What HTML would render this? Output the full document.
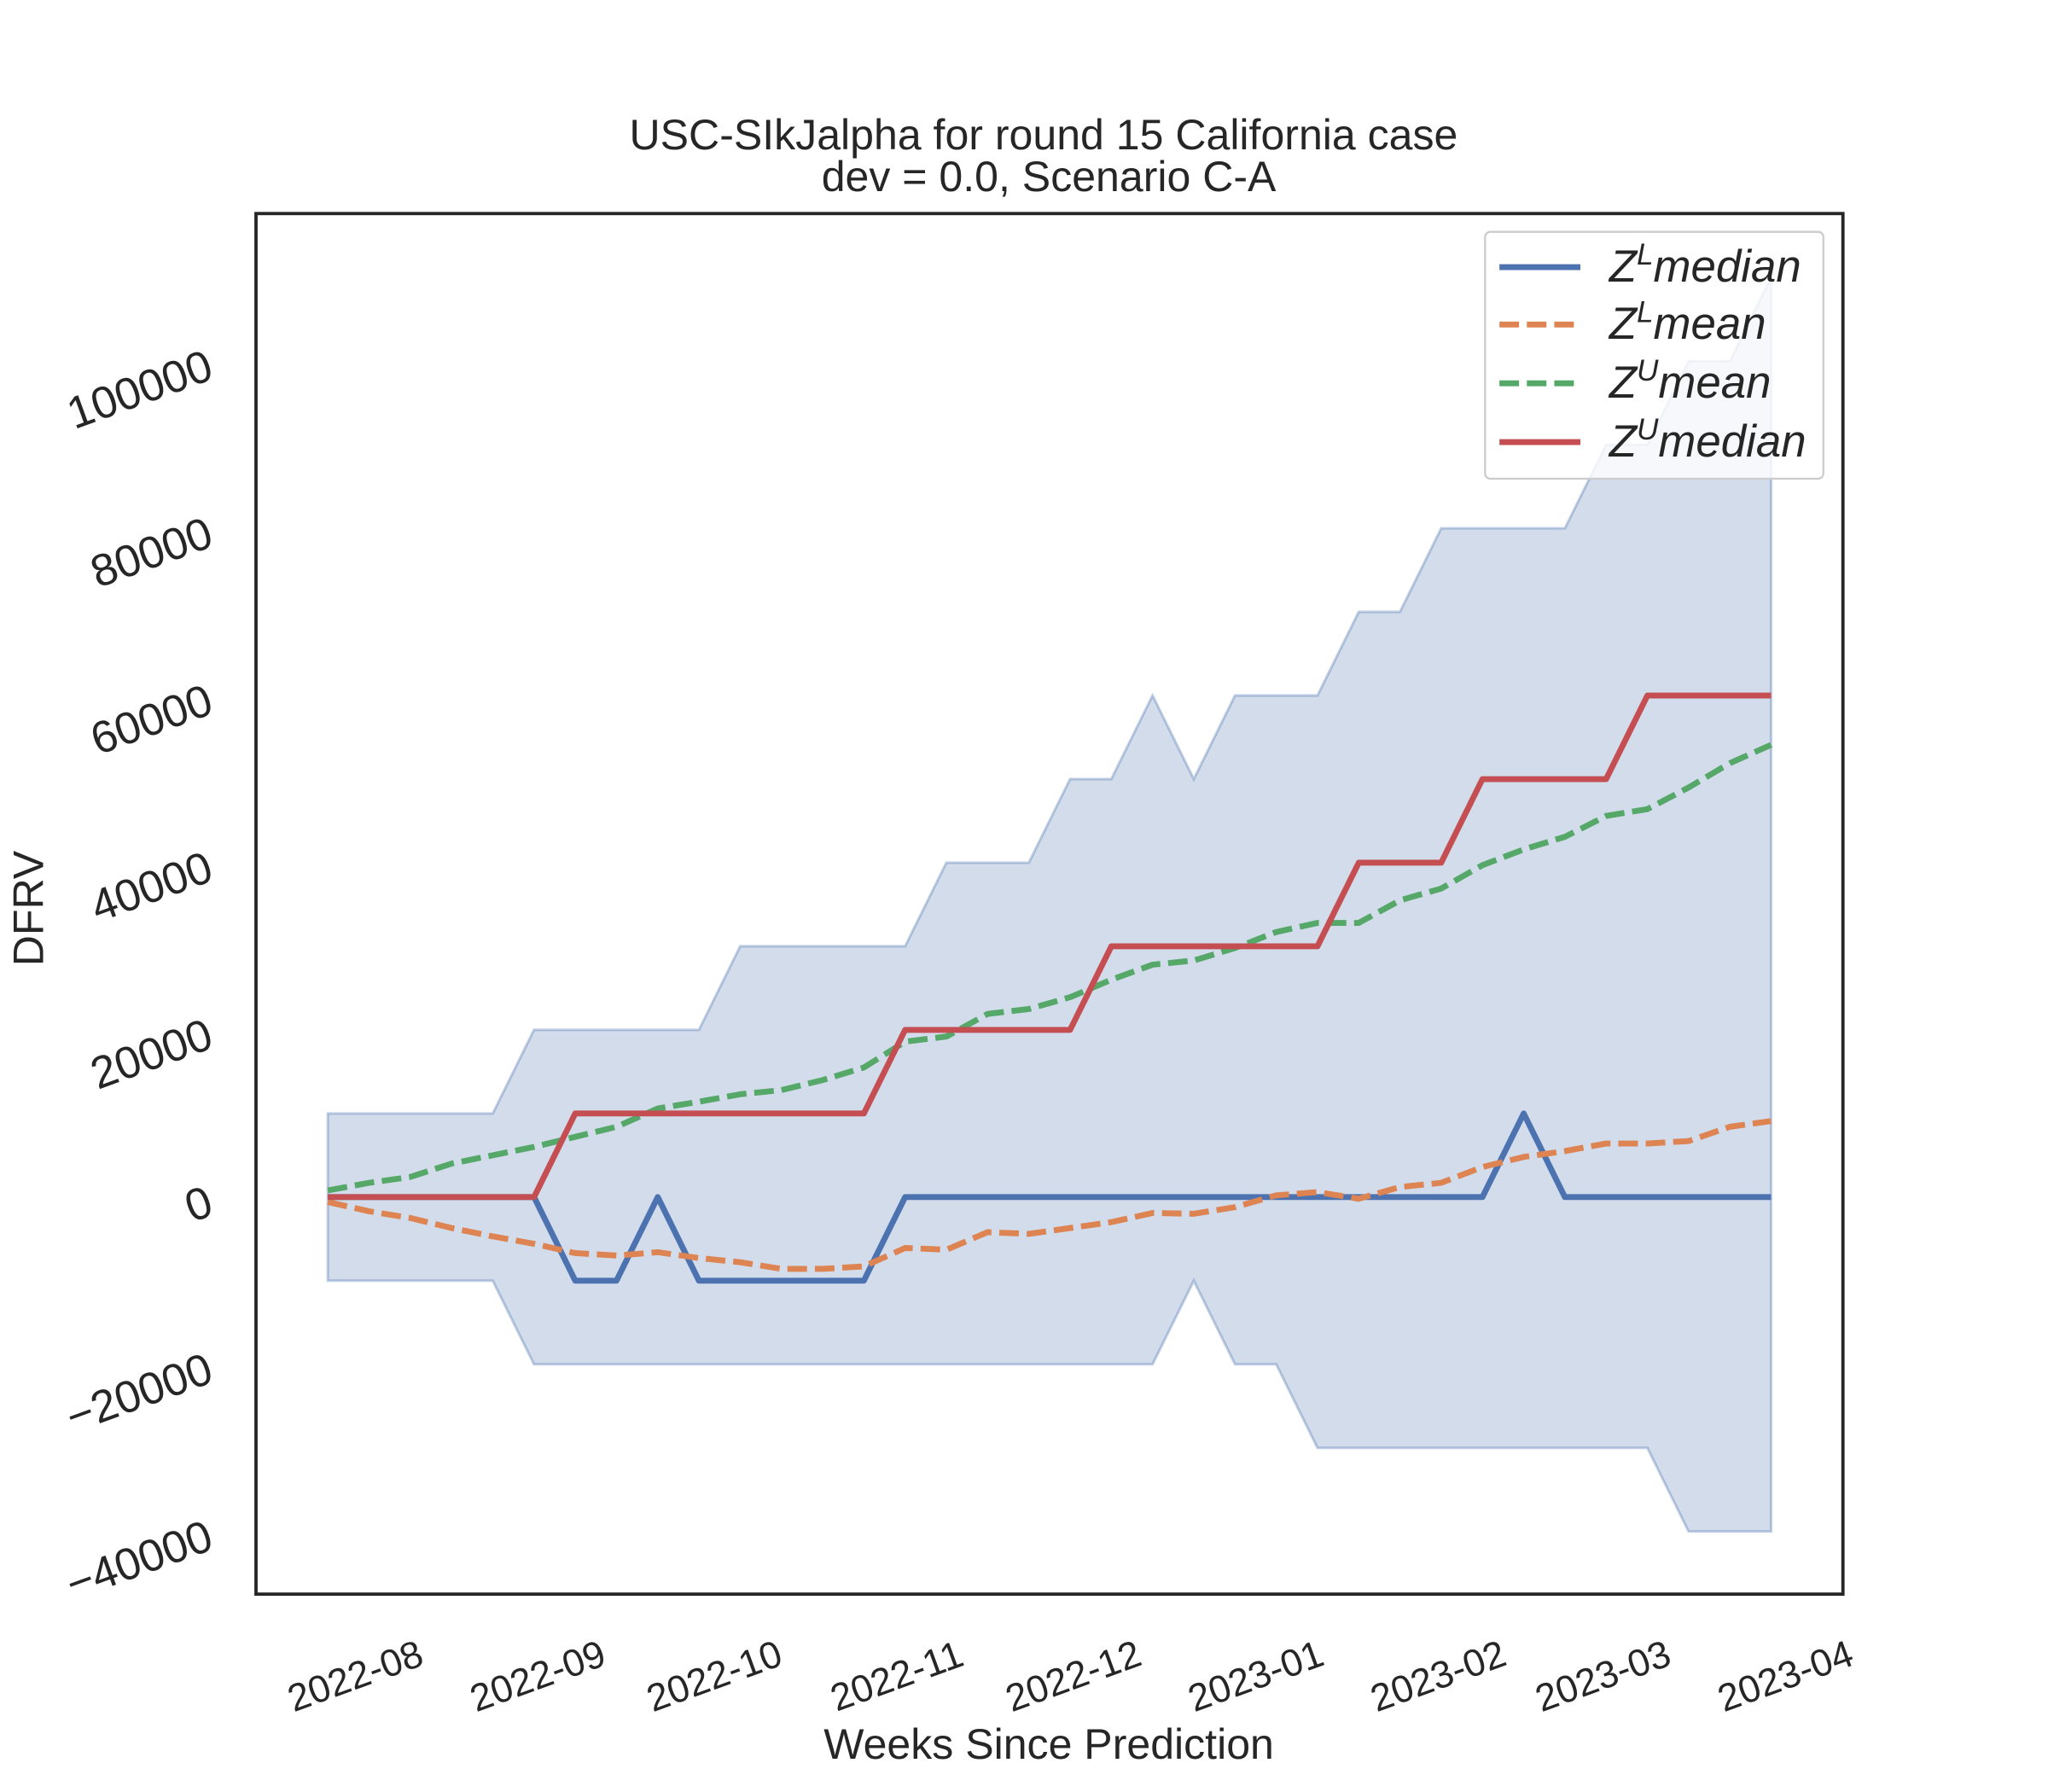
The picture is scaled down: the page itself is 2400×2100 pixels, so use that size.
<!DOCTYPE html>
<html><head><meta charset="utf-8"><style>
html,body{margin:0;padding:0;background:#fff}
svg{display:block;font-family:"Liberation Sans",sans-serif}
</style></head><body>
<svg id="chart" width="2400" height="2100" viewBox="0 0 1568 1371">
<rect width="1568" height="1371" fill="#fff"/>
<text x="799" y="114" font-size="32.7" text-anchor="middle" fill="#262626">USC-SIkJalpha for round 15 California case</text>
<text x="803" y="146" font-size="32.7" text-anchor="middle" fill="#262626">dev = 0.0, Scenario C-A</text>
<g id="plot"></g>
<g id="yticks"></g>
<g id="xticks"></g>
<text x="803" y="1346" font-size="32.7" text-anchor="middle" fill="#262626">Weeks Since Prediction</text>
<text transform="translate(33,695) rotate(-90)" font-size="32.7" text-anchor="middle" fill="#262626">DFRV</text>
<rect x="196" y="163" width="1215" height="1057" fill="none" stroke="#262626" stroke-width="2.5"/>
<g>
<rect x="1137" y="177" width="259" height="189" rx="4" fill="#fff" fill-opacity="0.8" stroke="#ccc" stroke-width="1.5"/>
<g><line x1="1148" y1="204" x2="1210" y2="204" stroke="#4c72b0" stroke-width="4.5"/><text x="1232" y="215" font-size="34.5" font-style="italic" fill="#262626">Z<tspan dy="-13" font-size="23">L</tspan><tspan dy="13">median</tspan></text></g>
<g><line x1="1148" y1="248" x2="1210" y2="248" stroke="#dd8452" stroke-width="4.5" stroke-dasharray="15,6"/><text x="1232" y="259" font-size="34.5" font-style="italic" fill="#262626">Z<tspan dy="-13" font-size="23">L</tspan><tspan dy="13">mean</tspan></text></g>
<g><line x1="1148" y1="293" x2="1210" y2="293" stroke="#55a868" stroke-width="4.5" stroke-dasharray="15,6"/><text x="1232" y="304" font-size="34.5" font-style="italic" fill="#262626">Z<tspan dy="-13" font-size="23">U</tspan><tspan dy="13">mean</tspan></text></g>
<g><line x1="1148" y1="338" x2="1210" y2="338" stroke="#c44e52" stroke-width="4.5"/><text x="1232" y="349" font-size="34.5" font-style="italic" fill="#262626">Z<tspan dy="-13" font-size="23">U</tspan><tspan dy="13">median</tspan></text></g>
</g>
</svg>
<script>
const weeks = Array.from({length:36},(_,i)=>i);
const bandUpper = [10000,10000,10000,10000,10000,20000,20000,20000,20000,20000,30000,30000,30000,30000,30000,40000,40000,40000,50000,50000,60000,50000,60000,60000,60000,70000,70000,80000,80000,80000,80000,90000,90000,100000,100000,110000];
const bandLower = [-10000,-10000,-10000,-10000,-10000,-20000,-20000,-20000,-20000,-20000,-20000,-20000,-20000,-20000,-20000,-20000,-20000,-20000,-20000,-20000,-20000,-10000,-20000,-20000,-30000,-30000,-30000,-30000,-30000,-30000,-30000,-30000,-30000,-40000,-40000,-40000];
const zlMedian = [0,0,0,0,0,0,-10000,-10000,0,-10000,-10000,-10000,-10000,-10000,0,0,0,0,0,0,0,0,0,0,0,0,0,0,0,10000,0,0,0,0,0,0];
const zuMedian = [0,0,0,0,0,0,10000,10000,10000,10000,10000,10000,10000,10000,20000,20000,20000,20000,20000,30000,30000,30000,30000,30000,30000,40000,40000,40000,50000,50000,50000,50000,60000,60000,60000,60000];
const zuMean = [800,1700,2400,4000,5000,6000,7200,8400,10600,11400,12300,12800,14000,15500,18600,19200,21900,22500,23900,26000,27800,28300,29800,31700,32800,32800,35500,36900,39700,41600,43100,45600,46400,49000,51900,54100];
const zlMean = [-600,-1700,-2500,-3700,-4700,-5600,-6700,-7000,-6600,-7300,-7800,-8600,-8600,-8300,-6100,-6300,-4200,-4400,-3700,-3000,-1900,-2000,-1200,200,600,-200,1200,1700,3600,4800,5500,6400,6400,6700,8400,9100];
const yTicks = [-40000,-20000,0,20000,40000,60000,80000,100000];
const yTickLabels = ["\u221240000","\u221220000","0","20000","40000","60000","80000","100000"];
const xTickDays = [0,31,61,92,122,153,184,212,243];
const xTickLabels = ["2022-08","2022-09","2022-10","2022-11","2022-12","2023-01","2023-02","2023-03","2023-04"];

const NS="http://www.w3.org/2000/svg";
const xW = i => 251 + i*(1105/35);
const xD = d => 275.4 + d*4.506;
const y = v => 916 - v*0.0064;
const plot=document.getElementById('plot');
function mk(tag,attrs,parent){const e=document.createElementNS(NS,tag);for(const k in attrs)e.setAttribute(k,attrs[k]);parent.appendChild(e);return e;}
function pts(arr){return arr.map((v,i)=>xW(weeks[i]).toFixed(1)+','+y(v).toFixed(1)).join(' ');}

const bandPts = weeks.map(i=>xW(i)+','+y(bandUpper[i])).concat(weeks.slice().reverse().map(i=>xW(i)+','+y(bandLower[i]))).join(' ');
const band=mk('polygon',{points:bandPts,fill:'#4c72b0','fill-opacity':0.25,stroke:'#4c72b0','stroke-opacity':0.35,'stroke-width':2},plot);



const series=[[zlMedian,'#4c72b0',null,'zl-median-line'],[zlMean,'#dd8452','15,6','zl-mean-line'],[zuMean,'#55a868','15,6','zu-mean-line'],[zuMedian,'#c44e52',null,'zu-median-line']];
for(const [arr,c,dash,name] of series){
  const a={points:pts(arr),fill:'none',stroke:c,'stroke-width':4.5,'stroke-linejoin':'round'};
  if(dash)a['stroke-dasharray']=dash;
  const l=mk('polyline',a,plot);
  
  
}
const yg=document.getElementById('yticks');
yTicks.forEach((v,i)=>{
  const t=mk('text',{transform:`translate(165,${y(v)+13}) rotate(-20)`,'font-size':34.5,'text-anchor':'end',fill:'#262626'},yg);
  t.textContent=yTickLabels[i];
  
  
});
const xg=document.getElementById('xticks');
xTickDays.forEach((d,i)=>{
  const t=mk('text',{transform:`translate(${xD(d)},1292) rotate(-20)`,'font-size':29.3,'text-anchor':'middle',fill:'#262626'},xg);
  t.textContent=xTickLabels[i];
  
  
});
</script>
</body></html>
